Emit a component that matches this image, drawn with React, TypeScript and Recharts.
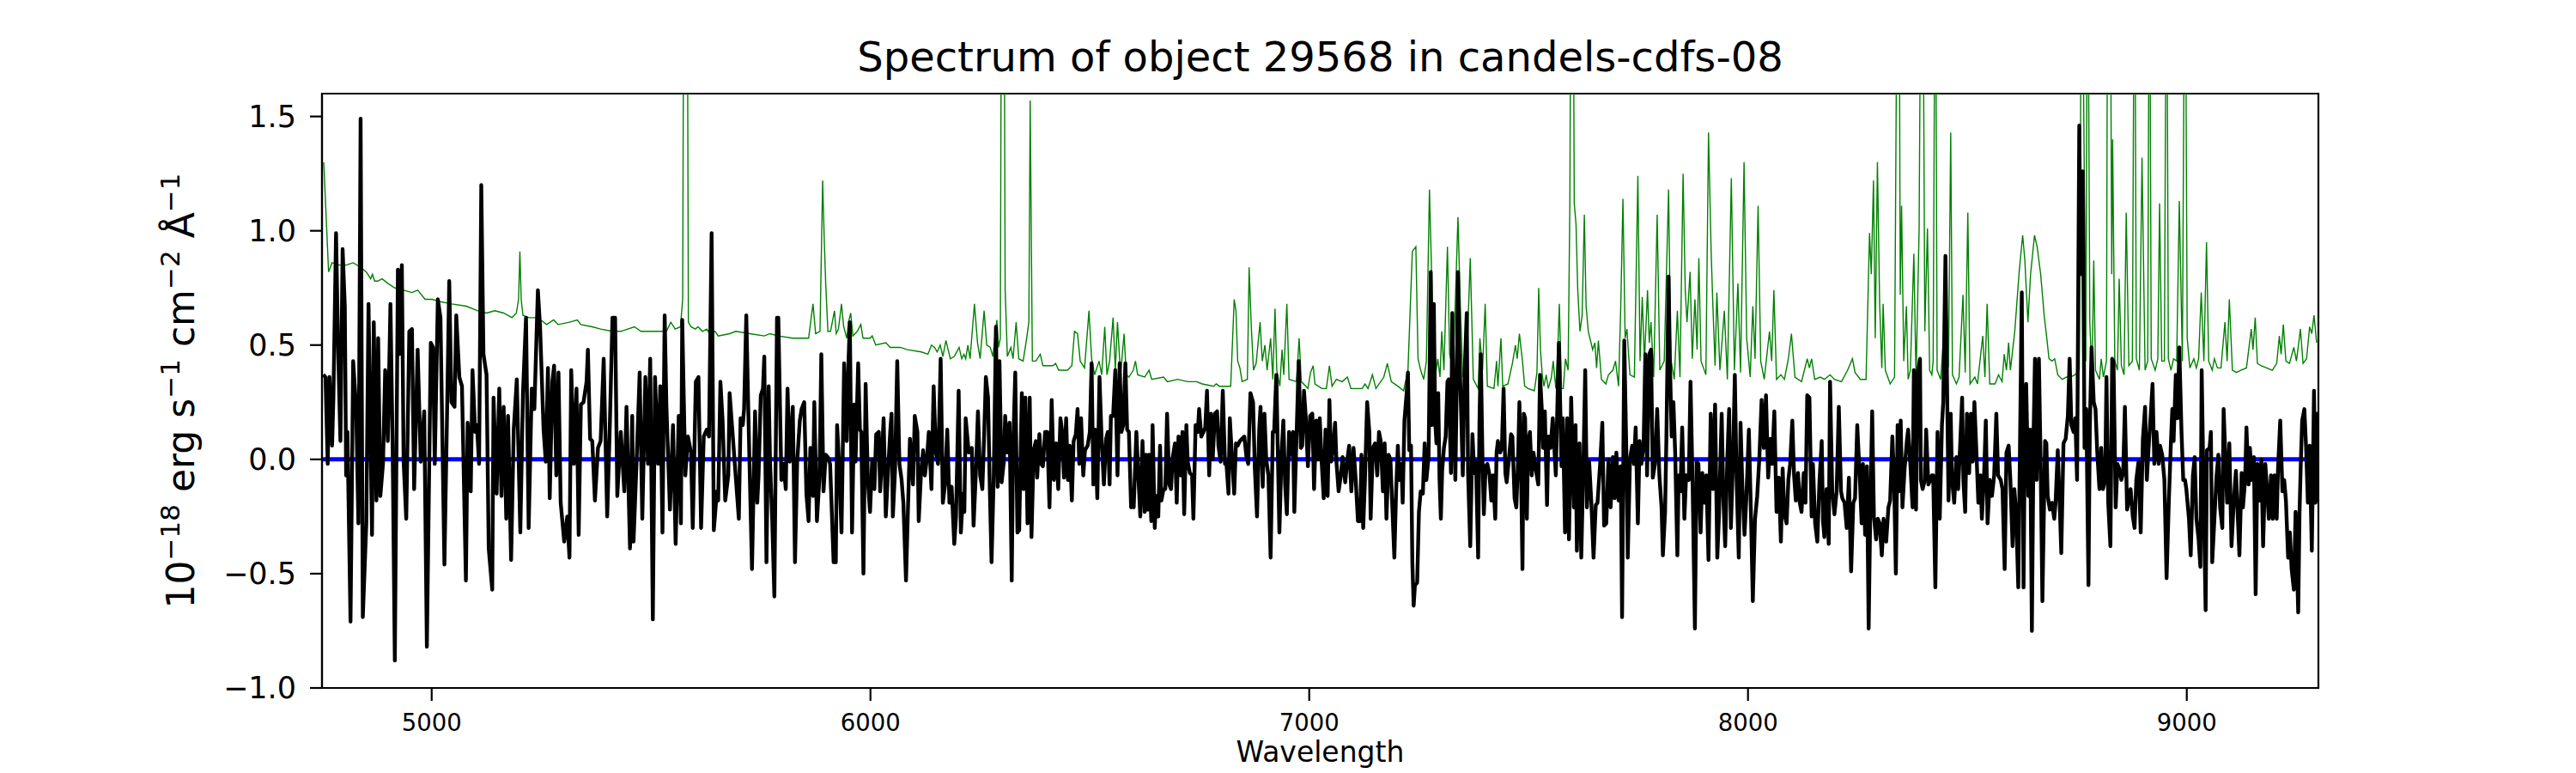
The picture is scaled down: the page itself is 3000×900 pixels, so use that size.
import { Line, LineChart, ReferenceArea, XAxis, YAxis } from 'recharts'

const FONT = '"DejaVu Sans", sans-serif'

// black: object flux, [wavelength (Å), flux (1e-18 erg/s/cm2/Å)]
const flux4750: [number, number][] = [
  [4753, 0.37], [4758, 0.36], [4763, -0.02], [4767, 0.36], [4773, 0.06], [4776, 0.27], [4782, 0.99], [4787, 0.46],
  [4792, 0.08], [4797, 0.92], [4802, 0.67], [4805, -0.07], [4808, 0.12], [4815, -0.71], [4821, 0.43], [4828, 0.22],
  [4833, -0.28], [4838, 1.49], [4843, -0.69], [4851, -0.28], [4856, 0.68], [4864, -0.33], [4868, 0.6], [4874, -0.18],
  [4878, 0.53], [4883, -0.16], [4889, -0.02], [4894, 0.39], [4900, 0.08], [4906, 0.68], [4911, 0.05], [4916, -0.88],
  [4923, 0.83], [4926, 0.46], [4932, 0.85], [4936, -0.01], [4942, -0.26], [4949, 0.56], [4955, 0.57], [4960, -0.13],
  [4968, 0.48], [4975, -0.01], [4983, 0.21], [4989, -0.82], [4998, 0.51], [5003, 0.49], [5007, -0.02], [5014, 0.7],
  [5020, 0.62], [5029, -0.46], [5035, 0.2], [5040, 0.78], [5045, 0.25], [5052, 0.23], [5056, 0.63], [5063, 0.36],
  [5069, 0.32], [5078, -0.53], [5082, 0.16], [5089, -0.14], [5093, 0.39], [5099, 0.12], [5103, 0.15], [5108, -0.02],
  [5113, 1.2], [5118, 0.46], [5125, 0.37], [5130, -0.39], [5138, -0.57], [5141, 0.27], [5148, -0.15], [5154, 0.31],
  [5159, -0.16], [5164, 0.23], [5170, -0.26], [5174, 0.19], [5181, -0.44], [5187, 0.13], [5194, 0.35], [5202, -0.32],
  [5208, 0.29], [5215, 0.62], [5221, -0.3], [5228, 0.31], [5234, 0.22], [5242, 0.74], [5247, 0.58], [5255, 0.13],
  [5260, -0.01], [5265, 0.4], [5269, -0.17], [5275, 0.34], [5279, 0.41], [5284, -0.07], [5289, 0.38], [5294, -0.19],
  [5302, -0.36], [5309, -0.25], [5314, -0.43], [5318, 0.39], [5324, -0.02], [5330, 0.31], [5335, -0.33], [5340, 0.24],
  [5346, 0.25], [5353, 0.34], [5356, 0.48], [5361, 0.09], [5366, 0.08], [5372, -0.18], [5379, 0.05], [5385, 0.08],
  [5392, 0.44], [5400, -0.25], [5406, 0.15], [5412, 0.62], [5418, 0.62], [5423, -0.16], [5431, 0.12], [5439, -0.14],
  [5444, 0.23], [5452, -0.39], [5457, 0.19], [5460, -0.36], [5467, -0.01], [5474, 0.38], [5480, -0.26], [5487, 0.36],
  [5493, -0.02], [5498, 0.44], [5504, -0.7], [5509, 0.36], [5516, -0.02], [5521, 0.32], [5526, -0.32], [5531, 0.63],
  [5535, 0.23], [5543, -0.22], [5550, 0.15], [5556, -0.37], [5563, 0.19], [5568, -0.28], [5571, 0.61], [5578, -0.07],
  [5584, 0.1], [5591, 0.03], [5595, -0.3], [5602, 0.34], [5608, 0.36], [5614, -0.3], [5620, 0.1], [5627, 0.13],
  [5632, 0.1], [5638, 0.99], [5643, -0.31], [5650, -0.14], [5653, -0.18], [5658, 0.34], [5663, 0.17], [5669, -0.18],
  [5676, -0.07], [5679, 0.29],
]

const flux5700: [number, number][] = [
  [5700, -0.26], [5704, 0.18], [5709, 0.15], [5712, 0.22], [5717, 0.63], [5722, 0.18], [5725, -0.07], [5730, -0.48],
  [5737, 0.21], [5742, -0.19], [5745, -0.07], [5750, 0.28], [5755, 0.31], [5758, 0.45], [5763, -0.45], [5768, 0.32],
  [5771, 0.0], [5776, -0.26], [5781, -0.6], [5787, 0.62], [5790, 0.62], [5797, -0.09], [5802, -0.02], [5807, -0.13],
  [5811, 0.31], [5816, -0.01], [5823, 0.23], [5828, -0.45], [5833, -0.01], [5839, 0.17], [5843, 0.22], [5849, 0.25],
  [5854, -0.15], [5859, -0.27], [5863, 0.05], [5869, -0.16], [5872, 0.25], [5878, -0.27], [5884, -0.07], [5888, 0.46],
  [5893, -0.14], [5898, 0.02], [5903, 0.01], [5908, -0.02], [5911, -0.18], [5916, -0.45], [5921, -0.45], [5924, 0.15],
  [5929, -0.04], [5934, -0.32], [5940, 0.42], [5946, 0.08], [5950, 0.43], [5953, 0.6], [5958, -0.32], [5963, 0.24],
  [5966, -0.01], [5972, 0.42], [5976, 0.13], [5979, 0.12], [5984, -0.5], [5989, 0.33], [5994, -0.09], [5999, -0.23],
  [6004, 0.0], [6009, -0.13], [6013, 0.11], [6019, 0.12], [6022, -0.14], [6025, -0.04], [6030, 0.18], [6035, -0.25],
  [6041, -0.02], [6045, 0.12], [6048, 0.2], [6051, -0.25], [6056, -0.05], [6061, 0.43], [6066, -0.02], [6071, -0.09],
  [6075, -0.19], [6081, -0.53], [6085, -0.25], [6090, 0.09], [6097, -0.11], [6101, 0.19], [6107, 0.12], [6110, -0.27],
  [6115, -0.07], [6120, 0.04], [6124, -0.07], [6129, 0.01], [6133, 0.12], [6139, -0.13], [6144, 0.32], [6149, 0.03],
  [6154, -0.02], [6157, 0.2], [6160, 0.44], [6165, -0.19], [6170, -0.11], [6175, 0.13], [6180, -0.19], [6185, -0.12],
  [6191, -0.37], [6195, -0.25], [6201, 0.3], [6206, -0.32], [6211, -0.15], [6214, -0.23], [6217, 0.18], [6224, 0.03],
  [6231, 0.05], [6235, -0.29], [6240, -0.07], [6245, 0.21], [6250, -0.07], [6255, -0.13], [6259, 0.1], [6263, 0.36],
  [6268, 0.27], [6272, -0.13], [6276, -0.45], [6281, -0.07], [6286, 0.58], [6290, -0.12], [6294, 0.43], [6299, -0.1],
  [6304, -0.01], [6307, 0.19], [6312, 0.03], [6317, 0.16], [6322, -0.53], [6325, 0.04], [6330, 0.38], [6335, -0.32],
  [6339, -0.31], [6345, 0.29], [6349, -0.13], [6353, 0.27], [6358, -0.28], [6363, 0.27], [6367, -0.34], [6372, 0.04],
  [6377, 0.08], [6380, -0.08], [6385, 0.11], [6389, -0.02], [6393, -0.03], [6398, 0.12], [6403, 0.12], [6408, -0.21],
  [6413, 0.26], [6418, -0.09], [6423, 0.07], [6428, -0.13], [6433, 0.18], [6437, 0.12], [6441, -0.08], [6446, 0.18],
  [6450, -0.09], [6454, 0.06], [6459, -0.18], [6463, 0.08], [6468, 0.11], [6472, 0.22], [6476, -0.02], [6480, 0.18],
  [6485, -0.07], [6489, 0.04], [6495, 0.06], [6500, 0.12], [6504, 0.42], [6508, -0.11], [6512, 0.13], [6517, -0.17],
  [6522, 0.36], [6527, 0.08], [6532, -0.11], [6537, 0.09], [6541, 0.12], [6545, -0.11], [6548, 0.19], [6553, 0.19],
  [6558, 0.39], [6563, -0.07], [6568, 0.42], [6572, 0.12], [6576, 0.15], [6581, 0.42], [6585, 0.13], [6589, 0.12],
  [6594, -0.21], [6599, -0.16],
]

const flux6600: [number, number][] = [
  [6600, -0.21], [6606, 0.12], [6611, -0.09], [6615, -0.25], [6620, 0.08], [6625, -0.23], [6628, 0.02], [6632, -0.22],
  [6635, 0.02], [6640, -0.27], [6643, 0.15], [6648, -0.3], [6651, -0.16], [6656, -0.25], [6660, 0.06], [6663, -0.18],
  [6668, -0.13], [6672, -0.13], [6676, 0.2], [6681, -0.11], [6685, -0.13], [6689, 0.01], [6694, 0.07], [6698, -0.19],
  [6702, 0.1], [6707, -0.07], [6711, 0.12], [6715, -0.24], [6720, 0.15], [6723, -0.01], [6728, -0.06], [6733, -0.07],
  [6736, -0.26], [6741, 0.15], [6746, 0.12], [6749, 0.22], [6754, 0.1], [6759, 0.12], [6763, 0.14], [6767, 0.3],
  [6772, -0.07], [6776, 0.2], [6780, 0.0], [6785, 0.2], [6790, 0.21], [6793, 0.06], [6798, -0.01], [6803, 0.3],
  [6808, -0.02], [6811, -0.01], [6816, -0.15], [6819, 0.18], [6824, 0.01], [6829, -0.15], [6833, 0.07], [6837, 0.06],
  [6842, 0.08], [6847, 0.09], [6852, 0.1], [6857, 0.01], [6861, -0.02], [6866, 0.29], [6872, 0.25], [6876, -0.04],
  [6881, -0.25], [6886, 0.13], [6889, 0.23], [6894, -0.12], [6898, 0.2], [6902, 0.0], [6907, -0.07], [6912, -0.43],
  [6917, 0.12], [6920, 0.12], [6925, 0.37], [6928, 0.08], [6932, -0.32], [6937, 0.03], [6941, 0.17], [6945, -0.11],
  [6949, -0.24], [6954, 0.12], [6959, 0.02], [6963, 0.12], [6966, -0.23], [6971, 0.1], [6976, 0.43], [6981, 0.05],
  [6984, 0.06], [6988, 0.3], [6992, 0.19], [6997, -0.03], [7002, 0.19], [7007, 0.2], [7011, -0.13], [7016, 0.17],
  [7021, 0.0], [7024, 0.18], [7028, 0.0], [7033, -0.17], [7037, 0.13], [7042, -0.16], [7046, 0.26], [7050, -0.01],
  [7054, 0.04], [7059, 0.16], [7062, -0.01], [7067, -0.14], [7072, -0.07], [7076, 0.01], [7082, -0.1], [7087, 0.0],
  [7091, 0.06], [7096, -0.14], [7101, 0.05], [7106, -0.09], [7111, -0.27], [7116, -0.27], [7119, 0.02], [7123, -0.3],
  [7127, -0.09], [7132, 0.25], [7137, 0.12], [7140, -0.26], [7145, 0.05], [7150, 0.07], [7155, -0.07], [7159, 0.12],
  [7163, 0.08], [7168, -0.14], [7172, 0.07], [7176, -0.26], [7181, 0.02], [7185, 0.0], [7189, -0.19], [7194, -0.43],
  [7198, -0.14], [7202, 0.06], [7205, -0.09], [7210, -0.02], [7213, -0.19], [7217, 0.17], [7222, 0.29], [7225, 0.38],
  [7228, 0.04], [7232, 0.06], [7235, -0.45], [7238, -0.64], [7241, -0.55], [7246, -0.54], [7250, -0.23], [7254, -0.14],
  [7259, -0.15], [7263, 0.07], [7267, -0.09], [7272, 0.01], [7277, 0.82], [7280, 0.15], [7284, 0.68], [7287, 0.17],
  [7290, 0.07], [7294, 0.29], [7297, -0.09], [7300, -0.26], [7303, -0.05], [7307, 0.05], [7311, 0.1], [7315, 0.34],
  [7318, 0.35], [7323, -0.06], [7326, 0.64], [7329, 0.25], [7333, -0.09], [7336, 0.3], [7339, 0.82], [7342, 0.49],
  [7346, 0.22], [7350, -0.07], [7354, 0.37], [7359, 0.64], [7362, -0.06], [7367, -0.38], [7372, 0.11], [7376, -0.06],
  [7380, -0.01], [7385, -0.43], [7388, 0.17], [7391, 0.46], [7395, -0.01], [7398, -0.24], [7402, -0.03], [7406, -0.02],
  [7411, -0.07], [7415, -0.18], [7419, -0.07], [7424, -0.26], [7427, 0.03], [7430, 0.08], [7435, 0.03], [7439, 0.05],
  [7443, 0.31], [7447, -0.06], [7450, -0.1], [7455, 0.0], [7460, 0.11], [7463, 0.1], [7468, -0.17], [7472, -0.21],
  [7476, 0.0], [7479, 0.25], [7483, -0.09], [7486, -0.48], [7489, 0.2], [7492, 0.18], [7496, -0.26], [7499, 0.08],
]

const flux7500: [number, number][] = [
  [7503, 0.12], [7507, -0.07], [7511, 0.03], [7516, -0.04], [7522, -0.11], [7526, 0.37], [7530, 0.22], [7533, 0.05],
  [7537, 0.21], [7542, -0.2], [7545, 0.1], [7550, 0.05], [7555, 0.18], [7562, -0.07], [7565, 0.19], [7569, 0.51],
  [7575, -0.03], [7578, 0.18], [7583, -0.32], [7588, 0.18], [7592, -0.35], [7597, 0.27], [7603, -0.21], [7607, 0.15],
  [7610, -0.4], [7616, 0.07], [7620, -0.43], [7625, -0.01], [7629, 0.39], [7633, -0.21], [7638, -0.01], [7643, -0.19],
  [7648, -0.43], [7653, -0.2], [7657, -0.19], [7663, -0.02], [7668, 0.16], [7672, -0.29], [7677, -0.28], [7682, 0.0],
  [7687, -0.21], [7692, 0.01], [7696, -0.17], [7700, 0.03], [7705, -0.18], [7710, -0.03], [7713, -0.69], [7718, 0.52],
  [7723, 0.01], [7726, -0.43], [7731, 0.0], [7736, 0.06], [7740, -0.02], [7744, 0.14], [7749, -0.28], [7753, 0.08],
  [7757, -0.02], [7762, 0.06], [7766, 0.46], [7770, -0.07], [7775, 0.46], [7779, 0.48], [7783, -0.08], [7788, -0.02],
  [7793, 0.22], [7798, -0.07], [7803, -0.21], [7806, -0.42], [7811, -0.23], [7814, 0.09], [7819, 0.8], [7822, 0.43],
  [7826, 0.1], [7830, 0.25], [7834, 0.03], [7839, -0.42], [7842, -0.07], [7846, -0.14], [7850, 0.14], [7855, -0.26],
  [7859, -0.07], [7865, -0.09], [7869, 0.34], [7874, -0.14], [7879, -0.74], [7883, -0.01], [7887, -0.02], [7892, -0.32],
  [7896, -0.06], [7901, -0.19], [7905, -0.07], [7910, -0.44], [7915, 0.2], [7920, -0.13], [7925, 0.24], [7930, -0.43],
  [7934, -0.24], [7940, 0.2], [7944, -0.18], [7948, -0.38], [7953, 0.01], [7957, 0.22], [7961, -0.3], [7966, 0.01],
  [7970, 0.37], [7974, -0.09], [7979, -0.43], [7983, 0.16], [7987, -0.11], [7992, -0.33], [7996, -0.18], [8002, 0.13],
  [8007, -0.26], [8011, -0.62], [8016, -0.26], [8021, -0.16], [8026, 0.01], [8031, 0.26], [8036, 0.05], [8041, 0.28],
  [8046, -0.08], [8051, 0.09], [8055, -0.02], [8060, 0.21], [8065, -0.23], [8070, -0.08], [8075, -0.36], [8079, -0.04],
  [8083, -0.24], [8088, -0.28], [8092, -0.09], [8096, -0.02], [8101, 0.17], [8105, -0.07], [8109, -0.18], [8114, -0.06],
  [8118, -0.19], [8122, -0.23], [8127, -0.06], [8131, -0.19], [8135, 0.28], [8140, 0.27], [8145, -0.25], [8148, -0.02],
  [8153, -0.28], [8158, -0.36], [8163, -0.09], [8168, 0.08], [8171, -0.27], [8174, -0.34], [8179, -0.13], [8184, -0.37],
  [8187, 0.34], [8192, -0.14], [8197, -0.24], [8202, -0.14], [8207, 0.23], [8212, -0.14], [8215, -0.17], [8220, -0.19],
  [8225, -0.3], [8230, -0.08], [8235, -0.49], [8240, -0.19], [8244, -0.17], [8249, 0.15], [8255, -0.09], [8259, -0.28],
  [8262, -0.02], [8267, -0.33], [8271, -0.03], [8275, -0.74], [8279, -0.19], [8283, 0.21], [8287, -0.25], [8292, -0.35],
  [8296, -0.26], [8300, -0.28], [8305, -0.42], [8309, -0.26], [8315, -0.36], [8320, -0.21], [8324, -0.18], [8329, 0.1],
  [8333, -0.09], [8337, -0.5], [8341, 0.15], [8344, -0.14], [8348, 0.17], [8352, -0.21], [8357, -0.04], [8362, 0.08],
  [8365, 0.13], [8370, -0.02], [8375, -0.21], [8378, 0.39], [8383, -0.22], [8386, 0.37], [8392, 0.44], [8394, -0.09],
  [8398, -0.13], [8403, -0.09], [8406, 0.13], [8411, -0.11], [8416, -0.09], [8419, -0.07],
]

const flux8420: [number, number][] = [
  [8422, -0.07], [8427, -0.56], [8432, 0.12], [8437, -0.26], [8442, 0.15], [8445, 0.25], [8450, 0.89], [8453, 0.43],
  [8457, -0.18], [8462, 0.2], [8465, -0.09], [8470, -0.19], [8475, 0.01], [8479, -0.13], [8483, 0.04], [8488, 0.27],
  [8491, -0.1], [8495, -0.23], [8499, 0.2], [8504, -0.06], [8508, 0.2], [8512, -0.01], [8516, 0.25], [8520, 0.06],
  [8525, -0.19], [8530, -0.07], [8533, -0.26], [8538, -0.07], [8542, 0.17], [8546, -0.28], [8551, -0.09], [8556, -0.16],
  [8561, -0.07], [8566, 0.2], [8570, -0.07], [8576, -0.09], [8580, -0.13], [8585, -0.48], [8589, 0.03], [8594, 0.06],
  [8598, -0.09], [8603, -0.38], [8607, -0.13], [8611, -0.23], [8616, -0.56], [8620, 0.08], [8624, 0.73], [8628, -0.56],
  [8631, 0.12], [8634, 0.33], [8639, -0.16], [8643, 0.13], [8647, -0.75], [8651, 0.13], [8654, 0.44], [8658, -0.09],
  [8663, 0.44], [8667, -0.02], [8671, -0.62], [8677, 0.08], [8680, 0.07], [8683, -0.16], [8688, -0.22], [8693, -0.19],
  [8698, -0.26], [8701, -0.19], [8706, 0.04], [8711, -0.23], [8714, -0.41], [8719, 0.07], [8724, 0.09], [8729, 0.19],
  [8733, 0.44], [8737, 0.15], [8742, 0.12], [8746, 0.18], [8750, -0.09], [8755, 1.46], [8758, 0.81], [8763, 1.26],
  [8767, 0.05], [8771, 0.22], [8776, -0.55], [8779, 0.13], [8783, 0.49], [8788, 0.25], [8792, 0.22], [8796, 0.03],
  [8801, -0.13], [8805, 0.05], [8809, -0.13], [8814, -0.09], [8817, 0.36], [8821, -0.19], [8826, -0.38], [8830, 0.44],
  [8833, 0.43], [8838, -0.21], [8842, -0.02], [8846, -0.04], [8851, -0.09], [8855, -0.06], [8859, 0.23], [8864, -0.22],
  [8868, -0.18], [8872, -0.13], [8877, -0.25], [8881, -0.3], [8885, -0.09], [8890, -0.01], [8895, -0.32], [8900, 0.09],
  [8905, 0.23], [8909, -0.09], [8913, 0.05], [8918, 0.2], [8922, 0.33], [8926, -0.02], [8931, 0.12], [8936, -0.02],
  [8939, 0.06], [8944, 0.02], [8949, -0.09], [8954, -0.52], [8959, -0.19], [8964, 0.08], [8967, 0.22], [8970, 0.08],
  [8975, 0.37], [8979, 0.18], [8983, 0.49], [8988, 0.12], [8992, -0.09], [8996, -0.09], [8999, -0.13], [9005, -0.26],
  [9009, -0.42], [9014, -0.07], [9018, 0.01], [9022, -0.26], [9027, -0.35], [9031, -0.47], [9034, 0.39], [9039, -0.22],
  [9043, -0.66], [9046, 0.04], [9052, 0.05], [9055, 0.12], [9058, -0.45], [9063, -0.26], [9068, -0.07], [9072, 0.02],
  [9076, -0.21], [9081, -0.3], [9084, 0.22], [9089, -0.04], [9092, -0.19], [9097, 0.07], [9102, -0.38], [9107, -0.19],
  [9112, -0.05], [9115, -0.19], [9120, -0.42], [9125, -0.06], [9128, -0.21], [9133, -0.09], [9136, 0.14], [9141, -0.11],
  [9144, 0.05], [9148, -0.09], [9153, 0.01], [9157, -0.59], [9161, -0.02], [9166, -0.18], [9170, 0.0], [9174, -0.38],
  [9179, -0.02], [9183, -0.13], [9187, -0.26], [9192, -0.07], [9196, -0.26], [9200, -0.07], [9205, -0.26], [9208, -0.04],
  [9213, 0.17], [9218, -0.14], [9222, -0.09], [9226, -0.18], [9231, -0.43], [9235, -0.32], [9239, -0.48], [9244, -0.57],
  [9248, -0.23], [9254, -0.67], [9257, -0.23], [9260, -0.01], [9263, 0.17], [9268, 0.22], [9272, 0.05], [9276, -0.19],
  [9280, 0.06], [9285, -0.4], [9290, 0.3], [9293, -0.19], [9296, 0.2], [9299, -0.19],
]

// green: sky / noise spectrum, same units (values above 1.6 run off the top)
const sky4750: [number, number][] = [
  [4754, 1.3], [4765, 0.82], [4773, 0.86], [4789, 0.85], [4805, 0.85], [4821, 0.86], [4838, 0.84], [4851, 0.82],
  [4861, 0.79], [4865, 0.81], [4870, 0.78], [4877, 0.78], [4887, 0.79], [4900, 0.77], [4916, 0.75], [4936, 0.74],
  [4955, 0.73], [4968, 0.74], [4985, 0.7], [5001, 0.7], [5020, 0.69], [5046, 0.68], [5079, 0.67], [5105, 0.65],
  [5125, 0.64], [5144, 0.65], [5164, 0.64], [5183, 0.62], [5193, 0.64], [5198, 0.7], [5201, 0.91], [5204, 0.7],
  [5208, 0.63], [5222, 0.62], [5242, 0.62], [5262, 0.59], [5278, 0.61], [5288, 0.59], [5314, 0.6], [5332, 0.61],
  [5340, 0.59], [5366, 0.58], [5385, 0.57], [5412, 0.56], [5431, 0.56], [5462, 0.58], [5477, 0.56], [5509, 0.56],
  [5535, 0.56], [5545, 0.6], [5555, 0.57], [5567, 0.58], [5572, 0.7], [5575, 2.6], [5582, 2.6], [5585, 0.6],
  [5591, 0.58], [5601, 0.57], [5607, 0.58], [5617, 0.56], [5627, 0.57], [5633, 0.55], [5646, 0.56], [5653, 0.54],
  [5679, 0.55],
]

const sky5700: [number, number][] = [
  [5693, 0.56], [5725, 0.55], [5758, 0.54], [5771, 0.55], [5790, 0.54], [5823, 0.53], [5859, 0.53], [5863, 0.59],
  [5869, 0.68], [5875, 0.55], [5885, 0.56], [5891, 1.22], [5895, 0.94], [5898, 0.77], [5903, 0.56], [5909, 0.56],
  [5918, 0.65], [5922, 0.55], [5927, 0.57], [5934, 0.68], [5939, 0.58], [5946, 0.53], [5950, 0.6], [5955, 0.64],
  [5960, 0.54], [5970, 0.56], [5978, 0.59], [5983, 0.53], [5999, 0.53], [6004, 0.54], [6012, 0.5], [6035, 0.51],
  [6045, 0.49], [6068, 0.49], [6084, 0.48], [6116, 0.47], [6131, 0.46], [6139, 0.5], [6146, 0.49], [6152, 0.47],
  [6159, 0.5], [6165, 0.45], [6172, 0.52], [6182, 0.44], [6191, 0.45], [6202, 0.49], [6208, 0.44], [6213, 0.46],
  [6217, 0.44], [6222, 0.5], [6227, 0.44], [6237, 0.68], [6244, 0.51], [6250, 0.44], [6259, 0.65], [6265, 0.5],
  [6273, 0.49], [6279, 0.45], [6288, 0.61], [6292, 0.49], [6296, 0.53], [6299, 2.6], [6304, 2.6], [6307, 0.74],
  [6312, 0.45], [6320, 0.49], [6325, 0.44], [6332, 0.6], [6338, 0.44], [6348, 0.43], [6356, 0.53], [6361, 0.6],
  [6364, 1.57], [6369, 0.43], [6377, 0.43], [6387, 0.46], [6393, 0.41], [6416, 0.41], [6422, 0.42], [6429, 0.39],
  [6449, 0.39], [6459, 0.41], [6465, 0.56], [6472, 0.55], [6478, 0.43], [6488, 0.4], [6498, 0.65], [6504, 0.44],
  [6511, 0.37], [6521, 0.43], [6527, 0.37], [6534, 0.58], [6539, 0.37], [6545, 0.43], [6553, 0.62], [6558, 0.39],
  [6563, 0.6], [6570, 0.37], [6578, 0.55], [6583, 0.37], [6589, 0.36], [6599, 0.39],
]

const sky6600: [number, number][] = [
  [6604, 0.43], [6609, 0.37], [6625, 0.36], [6635, 0.39], [6641, 0.35], [6668, 0.36], [6677, 0.34], [6700, 0.35],
  [6723, 0.34], [6743, 0.34], [6756, 0.33], [6782, 0.32], [6788, 0.33], [6795, 0.32], [6821, 0.32], [6829, 0.7],
  [6833, 0.65], [6837, 0.43], [6842, 0.4], [6847, 0.34], [6859, 0.35], [6863, 0.84], [6868, 0.58], [6873, 0.39],
  [6879, 0.42], [6888, 0.6], [6893, 0.43], [6899, 0.5], [6904, 0.39], [6912, 0.53], [6917, 0.35], [6922, 0.66],
  [6926, 0.39], [6933, 0.32], [6938, 0.48], [6942, 0.37], [6949, 0.68], [6954, 0.35], [6971, 0.34], [6977, 0.53],
  [6982, 0.34], [6997, 0.31], [7003, 0.38], [7009, 0.41], [7013, 0.33], [7029, 0.31], [7039, 0.31], [7046, 0.41],
  [7052, 0.32], [7062, 0.35], [7075, 0.34], [7087, 0.36], [7095, 0.31], [7121, 0.31], [7127, 0.33], [7134, 0.31],
  [7144, 0.37], [7152, 0.31], [7170, 0.36], [7178, 0.42], [7187, 0.34], [7202, 0.32], [7215, 0.3], [7225, 0.39],
  [7235, 0.91], [7243, 0.93], [7248, 0.44], [7254, 0.39], [7261, 0.35], [7267, 0.43], [7274, 1.18], [7279, 0.81],
  [7282, 0.55], [7287, 0.36], [7293, 0.44], [7298, 0.36], [7302, 0.56], [7307, 0.39], [7315, 0.93], [7320, 0.46],
  [7328, 0.39], [7339, 1.06], [7344, 0.7], [7350, 0.36], [7359, 0.43], [7367, 0.88], [7374, 0.35], [7385, 0.31],
  [7389, 0.53], [7395, 0.39], [7401, 0.68], [7406, 0.32], [7421, 0.31], [7427, 0.43], [7430, 0.32], [7437, 0.53],
  [7441, 0.32], [7453, 0.33], [7463, 0.42], [7470, 0.5], [7474, 0.44], [7479, 0.55], [7486, 0.43], [7491, 0.32],
  [7499, 0.31],
]

const sky7500: [number, number][] = [
  [7513, 0.3], [7519, 0.38], [7523, 0.75], [7527, 0.48], [7531, 0.37], [7535, 0.32], [7540, 0.37], [7545, 0.31],
  [7552, 0.36], [7556, 0.43], [7562, 0.31], [7566, 0.46], [7570, 0.68], [7575, 0.31], [7579, 0.31], [7584, 0.44],
  [7590, 0.39], [7594, 1.12], [7597, 2.6], [7601, 2.6], [7604, 1.12], [7608, 1.03], [7612, 0.74], [7617, 0.56],
  [7622, 0.63], [7627, 1.07], [7631, 0.67], [7636, 0.56], [7646, 0.48], [7651, 0.51], [7655, 0.4], [7659, 0.52],
  [7666, 0.35], [7676, 0.33], [7682, 0.37], [7692, 0.39], [7698, 0.43], [7705, 0.32], [7710, 0.67], [7715, 1.14],
  [7720, 0.53], [7724, 0.57], [7731, 0.37], [7741, 0.36], [7749, 1.24], [7754, 0.43], [7759, 0.71], [7764, 0.43],
  [7771, 0.74], [7775, 0.51], [7779, 0.6], [7785, 0.36], [7793, 1.07], [7799, 0.39], [7809, 0.43], [7819, 1.18],
  [7824, 0.44], [7832, 0.35], [7839, 0.65], [7845, 0.36], [7852, 1.25], [7857, 0.74], [7861, 0.6], [7868, 0.82],
  [7873, 0.44], [7879, 0.7], [7884, 0.48], [7888, 0.88], [7893, 0.43], [7904, 0.37], [7910, 1.43], [7916, 0.91],
  [7920, 0.67], [7925, 0.41], [7929, 0.73], [7936, 0.39], [7946, 0.65], [7953, 0.35], [7962, 1.23], [7969, 0.39],
  [7977, 0.77], [7983, 0.38], [7991, 1.3], [7997, 0.53], [8005, 0.36], [8011, 0.67], [8016, 0.44], [8023, 1.11],
  [8029, 0.43], [8037, 0.35], [8049, 0.56], [8054, 0.43], [8059, 0.74], [8065, 0.35], [8075, 0.37], [8083, 0.35],
  [8092, 0.44], [8099, 0.55], [8107, 0.36], [8122, 0.34], [8135, 0.44], [8140, 0.4], [8145, 0.44], [8152, 0.35],
  [8165, 0.36], [8174, 0.35], [8187, 0.37], [8197, 0.35], [8213, 0.34], [8227, 0.39], [8238, 0.44], [8244, 0.38],
  [8256, 0.35], [8269, 0.35], [8277, 0.99], [8281, 0.81], [8286, 1.22], [8290, 0.53], [8295, 1.3], [8300, 0.68],
  [8305, 0.4], [8308, 0.68], [8313, 0.39], [8324, 0.33], [8334, 0.36], [8341, 2.6], [8344, 2.6], [8347, 0.72],
  [8350, 1.11], [8355, 0.43], [8361, 0.67], [8365, 0.35], [8370, 0.39], [8378, 0.9], [8383, 0.35], [8390, 1.01],
  [8395, 2.6], [8398, 2.6], [8403, 0.56], [8409, 1.01], [8414, 0.39], [8419, 0.37],
]

const sky8420: [number, number][] = [
  [8422, 0.43], [8427, 2.6], [8431, 0.39], [8439, 0.35], [8445, 0.51], [8450, 0.36], [8457, 0.41], [8462, 1.43],
  [8466, 0.37], [8475, 0.33], [8481, 0.36], [8490, 0.72], [8495, 0.38], [8501, 1.08], [8506, 0.33], [8517, 0.36],
  [8523, 0.33], [8535, 0.54], [8540, 0.36], [8545, 0.68], [8551, 0.33], [8563, 0.33], [8571, 0.37], [8579, 0.34],
  [8584, 0.46], [8589, 0.39], [8594, 0.51], [8598, 0.39], [8608, 0.56], [8618, 0.82], [8626, 0.98], [8631, 0.87],
  [8638, 0.6], [8644, 0.81], [8653, 0.98], [8659, 0.93], [8667, 0.81], [8675, 0.63], [8681, 0.53], [8686, 0.44],
  [8693, 0.43], [8699, 0.44], [8706, 0.37], [8716, 0.35], [8726, 0.36], [8735, 0.36], [8745, 0.37], [8755, 0.39],
  [8761, 2.6], [8765, 1.57], [8770, 0.43], [8774, 2.6], [8779, 0.6], [8784, 0.36], [8788, 0.87], [8792, 0.39],
  [8801, 0.35], [8805, 0.44], [8810, 0.36], [8817, 0.43], [8820, 2.6], [8825, 2.6], [8829, 0.81], [8831, 1.4],
  [8836, 0.43], [8842, 0.39], [8846, 0.79], [8851, 0.41], [8857, 0.37], [8862, 1.08], [8868, 0.41], [8876, 0.43],
  [8881, 2.6], [8885, 0.44], [8892, 0.39], [8898, 1.32], [8905, 0.39], [8911, 0.43], [8915, 2.6], [8919, 0.44],
  [8928, 0.39], [8934, 0.44], [8938, 1.12], [8943, 0.43], [8949, 0.43], [8954, 2.6], [8958, 0.44], [8964, 0.39],
  [8970, 0.44], [8977, 0.43], [8983, 1.13], [8990, 0.43], [8996, 2.6], [9001, 0.53], [9007, 0.4], [9016, 0.44],
  [9022, 0.4], [9027, 0.44], [9033, 0.73], [9039, 0.43], [9045, 0.95], [9050, 0.43], [9058, 0.39], [9063, 0.44],
  [9070, 0.4], [9078, 0.4], [9087, 0.6], [9092, 0.43], [9097, 0.7], [9104, 0.39], [9113, 0.38], [9123, 0.39],
  [9136, 0.4], [9147, 0.57], [9151, 0.48], [9156, 0.62], [9161, 0.42], [9169, 0.41], [9182, 0.4], [9195, 0.39],
  [9205, 0.42], [9211, 0.54], [9215, 0.46], [9220, 0.59], [9226, 0.43], [9234, 0.42], [9244, 0.49], [9250, 0.43],
  [9259, 0.57], [9265, 0.42], [9273, 0.44], [9280, 0.58], [9285, 0.55], [9290, 0.63], [9296, 0.51],
]

// blue: zero level
const zeroLine: [number, number][] = [[4752, 0], [9299, 0]]

const X_DOMAIN: [number, number] = [4750, 9300]
const Y_DOMAIN: [number, number] = [-1.0, 1.6]
const X_TICKS = [5000, 6000, 7000, 8000, 9000]
const Y_TICKS = [-1.0, -0.5, 0.0, 0.5, 1.0, 1.5]

const toPoints = (arr: [number, number][]) => arr.map(([w, f]) => ({ w, f }))

const fluxData = toPoints([...flux4750, ...flux5700, ...flux6600, ...flux7500, ...flux8420])
const skyData = toPoints([...sky4750, ...sky5700, ...sky6600, ...sky7500, ...sky8420])
const zeroData = toPoints(zeroLine)

// matplotlib style minus sign
const fmtY = (v: number) => (v < 0 ? `\u2212${Math.abs(v).toFixed(1)}` : v.toFixed(1))

export default function App() {
  return (
    <div style={{ position: 'absolute', left: 0, top: 0, width: 3000, height: 900, background: '#fff' }}>
      <LineChart width={3000} height={900} margin={{ top: 109, right: 300, bottom: 39, left: 295 }}>
        <XAxis
          dataKey="w"
          type="number"
          domain={X_DOMAIN}
          ticks={X_TICKS}
          allowDataOverflow
          height={60}
          tickSize={15}
          tickMargin={15}
          axisLine={{ stroke: '#000', strokeWidth: 2.2 }}
          tickLine={{ stroke: '#000', strokeWidth: 2.2 }}
          tick={{ fill: '#000', fontSize: 27.5, fontFamily: FONT }}
        />
        <YAxis
          type="number"
          domain={Y_DOMAIN}
          ticks={Y_TICKS}
          allowDataOverflow
          width={80}
          tickSize={14}
          tickMargin={16}
          tickFormatter={fmtY}
          axisLine={{ stroke: '#000', strokeWidth: 2.2 }}
          tickLine={{ stroke: '#000', strokeWidth: 2.2 }}
          tick={{ fill: '#000', fontSize: 35, fontFamily: FONT }}
        />
        <ReferenceArea
          x1={X_DOMAIN[0]}
          x2={X_DOMAIN[1]}
          y1={Y_DOMAIN[0]}
          y2={Y_DOMAIN[1]}
          fill="none"
          stroke="#000"
          strokeWidth={2.2}
          ifOverflow="visible"
        />
        <Line
          data={zeroData}
          dataKey="f"
          type="linear"
          stroke="#0000ff"
          strokeWidth={5}
          dot={false}
          activeDot={false}
          isAnimationActive={false}
        />
        <Line
          data={skyData}
          dataKey="f"
          type="linear"
          stroke="#008000"
          strokeWidth={1.4}
          dot={false}
          activeDot={false}
          isAnimationActive={false}
        />
        <Line
          data={fluxData}
          dataKey="f"
          type="linear"
          stroke="#000"
          strokeWidth={4.4}
          strokeLinejoin="round"
          dot={false}
          activeDot={false}
          isAnimationActive={false}
        />
      </LineChart>

      <svg
        width={3000}
        height={900}
        style={{ position: 'absolute', left: 0, top: 0, pointerEvents: 'none' }}
        fontFamily={FONT}
      >
        <text x={1537.5} y={83} textAnchor="middle" fontSize={48} fill="#000">
          Spectrum of object 29568 in candels-cdfs-08
        </text>
        <text x={1537.5} y={887} textAnchor="middle" fontSize={33} fill="#000">
          Wavelength
        </text>
        <text transform="translate(226, 455) rotate(-90)" textAnchor="middle" fontSize={44} fill="#000">
          10
          <tspan dy={-17} fontSize={31}>{'\u221218'}</tspan>
          <tspan dy={17}>{' erg s'}</tspan>
          <tspan dy={-17} fontSize={31}>{'\u22121'}</tspan>
          <tspan dy={17}>{' cm'}</tspan>
          <tspan dy={-17} fontSize={31}>{'\u22122'}</tspan>
          <tspan dy={17}>{' \u00c5'}</tspan>
          <tspan dy={-17} fontSize={31}>{'\u22121'}</tspan>
        </text>
      </svg>
    </div>
  )
}
